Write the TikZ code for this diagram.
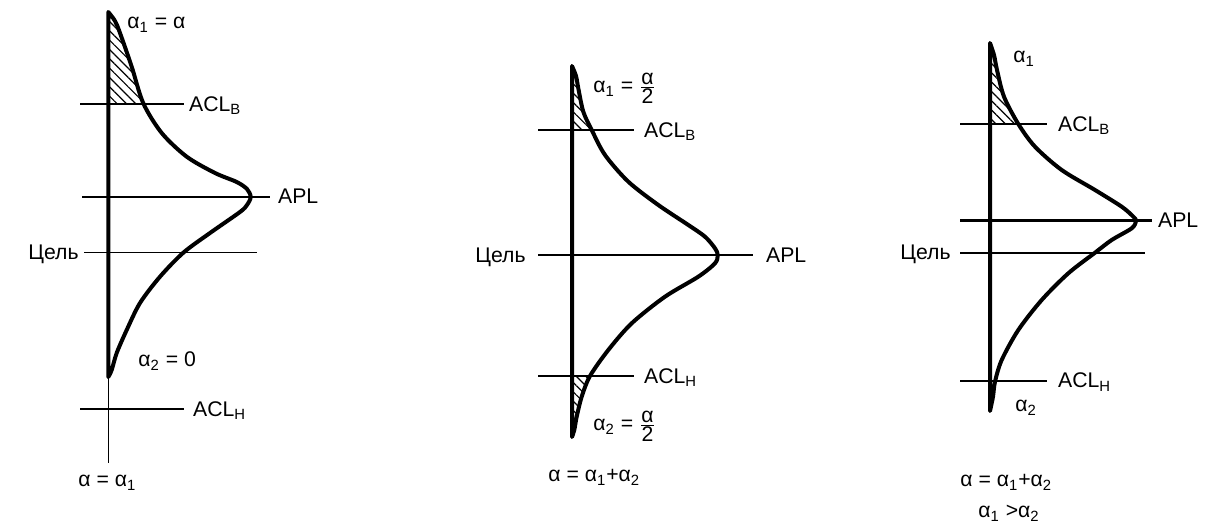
\documentclass[tikz,border=0pt]{standalone}
\usepackage{fontspec}
\setmainfont{Liberation Sans}
\usetikzlibrary{patterns.meta}

% the three distributions, in pixel units of the page
\newcommand{\distA}{(108.3,377) -- plot[smooth] coordinates {(108.3,12) (115,21) (120,33) (131.7,66.7) (143.3,103.3) (161.7,133) (186.7,156.7) (215,173) (236.7,182) (247,189) (250.7,197) (247,205) (240,212) (210,233) (183.3,252.7) (160,276.7) (140,303) (126.7,330) (116.7,353) (111.7,370) (108.3,377)} -- cycle}
\newcommand{\distB}{(572,437) -- plot[smooth] coordinates {(572,66) (576,76) (578.3,88.3) (583.3,111.7) (591.7,130) (605,155) (628.3,181.7) (658.3,205) (688.3,225) (705,236.7) (715,248.3) (717.7,255) (715,263.3) (698.3,276.7) (665,296.7) (631.7,323.3) (608.3,350) (590,376) (581.7,396.7) (576.7,416.7) (574.3,430) (572,437)} -- cycle}
\newcommand{\distC}{(990,411) -- plot[smooth] coordinates {(990,43) (994,55) (997,70) (1004,96.7) (1018.3,124) (1035,146.7) (1061.7,170) (1095,190) (1121.7,206.7) (1133.3,216.7) (1136,221) (1131.7,228.3) (1111.7,240) (1095,252.7) (1068.3,273.3) (1041.7,300) (1018.3,330) (1001.7,360) (995,381.7) (993,396.7) (990,411)} -- cycle}
\newcommand{\halfalpha}{\(\frac{\mbox{α}}{\mbox{2}}\)}

\begin{document}
\begin{tikzpicture}[x=0.5pt, y=-0.5pt,
    curve/.style={line width=2pt, line join=round, line cap=round},
    lvl/.style={line width=1.15pt},
    thinax/.style={line width=0.8pt},
    hatch/.style={pattern={Lines[angle=-45,distance=3.3pt,line width=0.6pt]}},
    lbl/.style={font=\fontsize{10.6}{12}\selectfont, inner sep=0pt},
    endlbl/.style={lbl, anchor=base west, xshift=#1, yshift=-3.6pt},
  ]
  \useasboundingbox (0,0) rectangle (1205,528);

  % panel 1: alpha = alpha_1
  \begin{scope}
    \clip (100,0) rectangle (300,104);
    \fill[hatch] \distA;
  \end{scope}
  \draw[thinax] (108.3,377) -- (108.3,463);
  \draw[lvl] (80,104) -- (184,104) node[endlbl=2pt] (aclB1) {ACL\textsubscript{В}};
  \draw[lvl] (82,196.7) -- (270,196.7) node[endlbl=3.5pt] (apl1) {APL};
  \draw[thinax] (84,252.7) -- (257,252.7);
  \draw[lvl] (80,409) -- (184,409) node[endlbl=4pt] (aclH1) {ACL\textsubscript{Н}};
  \draw[curve] \distA;
  \node[lbl, anchor=base west] (a11) at (127,29) {α\textsubscript{1} = α};
  \node[lbl, anchor=base east] (goal1) at (79,260) {Цель};
  \node[lbl, anchor=base west] (a21) at (138,367) {α\textsubscript{2} = 0};
  \node[lbl, anchor=base west] (sum1) at (78,487) {α = α\textsubscript{1}};

  % panel 2: alpha split in two halves
  \begin{scope}
    \clip (560,40) rectangle (800,130);
    \fill[hatch] \distB;
  \end{scope}
  \begin{scope}
    \clip (560,376) rectangle (800,460);
    \fill[hatch] \distB;
  \end{scope}
  \draw[lvl] (538,130) -- (634,130) node[endlbl=4.5pt] (aclB2) {ACL\textsubscript{В}};
  \draw[lvl] (538,255) -- (753,255) node[endlbl=6pt] (apl2) {APL};
  \draw[lvl] (538,376) -- (634,376) node[endlbl=4.5pt] (aclH2) {ACL\textsubscript{Н}};
  \draw[curve] \distB;
  \node[lbl, anchor=base west] (a12) at (593,93) {α\textsubscript{1} = \halfalpha};
  \node[lbl, anchor=base east] (goal2) at (526,263) {Цель};
  \node[lbl, anchor=base west] (a22) at (593,431) {α\textsubscript{2} = \halfalpha};
  \node[lbl, anchor=base west] (sum2) at (548,482) {α = α\textsubscript{1}+α\textsubscript{2}};

  % panel 3: alpha_1 > alpha_2
  \begin{scope}
    \clip (980,30) rectangle (1200,124);
    \fill[hatch] \distC;
  \end{scope}
  \draw[lvl] (960,124) -- (1047,124) node[endlbl=5pt] (aclB3) {ACL\textsubscript{В}};
  \draw[lvl] (960,220.5) -- (1152,220.5) node[endlbl=2.5pt] (apl3) {APL};
  \draw[lvl] (960,252.7) -- (1145,252.7);
  \draw[lvl] (960,380.7) -- (1047,380.7) node[endlbl=5pt] (aclH3) {ACL\textsubscript{Н}};
  \draw[curve] \distC;
  \node[lbl, anchor=base west] (a13) at (1013,63) {α\textsubscript{1}};
  \node[lbl, anchor=base east] (goal3) at (951,260) {Цель};
  \node[lbl, anchor=base west] (a23) at (1015,412) {α\textsubscript{2}};
  \node[lbl, anchor=base west] (sum3) at (960,487) {α = α\textsubscript{1}+α\textsubscript{2}};
  \node[lbl, anchor=base west] (cmp3) at (978,518) {α\textsubscript{1} >α\textsubscript{2}};
\end{tikzpicture}
\end{document}
